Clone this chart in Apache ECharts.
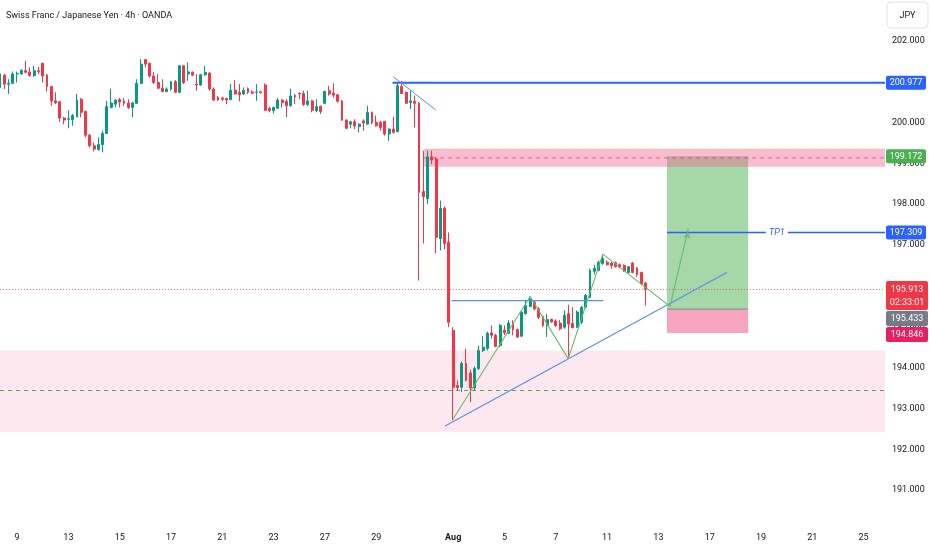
<!DOCTYPE html>
<html><head><meta charset="utf-8">
<script src="https://cdn.jsdelivr.net/npm/echarts@6/dist/echarts.min.js"></script>
<style>html,body{margin:0;padding:0;background:#fff}#c{width:932px;height:550px}</style>
</head><body><div id="c"></div>
<script>
// ---------- DATA ----------
var SLOTS = 208; // 4h slots on the time axis (candles + future space)
var tickSlots  = [4, 16, 28, 40, 52, 64, 76, 88, 106, 118, 130, 142, 154, 166, 178, 190, 202];
var tickLabels = ['9','13','15','17','21','23','27','29','Aug','5','7','11','13','17','19','21','25'];
// [open, close, low, high]
var ohlc = [
[200.86,201.19,200.82,201.27],[201.16,200.94,200.82,201.19],[200.94,200.96,200.70,201.06],[200.96,201.19,200.94,201.25],
[201.19,201.20,200.98,201.25],[201.19,201.28,201.17,201.30],[201.27,201.23,201.21,201.51],[201.24,201.15,201.12,201.35],
[201.15,201.27,201.12,201.39],[201.27,201.25,201.19,201.36],[201.45,201.14,200.98,201.46],[201.16,200.88,200.76,201.19],
[200.88,200.53,200.41,200.90],[200.53,200.48,200.45,200.74],[200.51,200.11,200.02,200.53],[200.11,200.06,199.96,200.14],
[200.08,200.09,199.86,200.30],[200.07,200.17,199.92,200.21],[200.14,200.55,200.13,200.70],[200.57,200.25,200.13,200.60],
[200.27,199.69,199.64,200.29],[199.69,199.43,199.39,199.72],[199.43,199.35,199.29,199.51],[199.34,199.46,199.31,199.64],
[199.46,199.73,199.27,199.80],[199.73,200.39,199.72,200.53],[200.37,200.48,200.35,200.83],[200.45,200.55,200.37,200.57],
[200.56,200.50,200.37,200.60],[200.53,200.47,200.41,200.60],[200.48,200.37,200.33,200.57],[200.37,200.48,200.13,200.51],
[200.47,200.96,200.45,201.06],[200.96,201.43,200.94,201.55],[201.54,201.43,201.35,201.55],[201.45,201.14,201.10,201.46],
[201.14,200.98,200.94,201.23],[200.98,200.84,200.82,201.19],[200.84,200.76,200.74,201.06],[200.76,200.82,200.74,200.86],
[200.82,201.00,200.78,201.02],[201.00,200.74,200.72,201.04],[200.74,201.39,200.72,201.41],[201.39,200.98,200.94,201.41],
[201.19,201.24,201.02,201.47],[201.23,201.16,201.14,201.25],[200.94,200.92,200.78,201.19],[200.92,201.17,200.90,201.19],
[201.17,201.23,201.14,201.39],[201.21,200.82,200.78,201.23],[200.82,200.55,200.53,200.86],[200.61,200.55,200.53,200.65],
[200.60,200.57,200.53,200.63],[200.59,200.55,200.45,200.61],[200.56,200.79,200.55,200.94],[200.79,200.70,200.68,201.04],
[200.74,200.68,200.52,200.94],[200.70,200.79,200.68,200.86],[200.83,200.74,200.70,200.86],[200.75,200.72,200.70,200.79],
[200.74,200.75,200.53,200.94],[200.75,200.73,200.71,200.78],[200.92,200.30,200.29,200.96],[200.35,200.29,200.25,200.39],
[200.29,200.37,200.22,200.39],[200.35,200.55,200.33,200.60],[200.55,200.49,200.37,200.57],[200.52,200.41,200.13,200.57],
[200.41,200.65,200.39,200.83],[200.66,200.63,200.45,200.70],[200.71,200.70,200.57,200.74],[200.71,200.44,200.41,200.78],
[200.44,200.53,200.41,200.78],[200.53,200.30,200.25,200.55],[200.29,200.39,200.25,200.57],[200.40,200.27,200.21,200.41],
[200.47,200.76,200.45,200.78],[200.78,200.70,200.66,200.90],[200.72,200.67,200.61,200.96],[200.68,200.52,200.49,200.70],
[200.53,200.06,200.04,200.55],[200.06,199.86,199.84,200.08],[199.96,200.02,199.86,200.04],[200.02,199.92,199.84,200.08],
[199.90,199.96,199.76,199.98],[200.04,199.99,199.80,200.08],[199.96,200.25,199.95,200.41],[200.25,200.00,199.96,200.27],
[200.00,199.92,199.90,200.17],[200.00,199.88,199.80,200.04],[200.03,199.72,199.68,200.04],[199.72,199.84,199.55,199.86],
[199.84,199.76,199.73,200.14],[199.78,200.90,199.76,200.98],[200.88,200.71,200.70,201.02],[200.74,200.47,200.45,200.76],
[200.49,200.53,200.33,200.78],[200.52,200.47,199.88,200.66],[200.47,198.29,196.13,200.50],[198.31,198.19,197.04,199.31],
[198.14,199.16,198.00,199.31],[199.16,199.08,198.98,199.31],[199.11,197.19,196.80,199.16],[197.16,197.90,196.87,198.09],
[197.90,197.04,196.90,197.95],[197.07,195.11,194.99,197.31],[194.91,193.52,192.71,194.99],[193.56,193.51,193.44,193.69],
[193.52,194.10,193.40,194.15],[194.10,193.69,193.66,194.46],[193.87,193.50,193.16,193.95],[193.50,193.98,193.44,194.03],
[193.98,194.42,193.94,194.54],[194.42,194.50,194.38,194.77],[194.47,194.84,194.42,194.88],[194.85,194.79,194.71,195.03],
[194.79,194.52,194.50,194.83],[194.54,195.03,194.50,195.07],[194.92,194.85,194.80,195.03],[194.84,195.09,194.82,195.16],
[195.09,194.93,194.79,195.16],[194.93,194.75,194.73,194.96],[194.77,195.36,194.75,195.38],[195.32,195.52,195.30,195.64],
[195.50,195.68,195.48,195.74],[195.60,195.44,195.40,195.64],[195.44,195.23,195.19,195.48],[195.25,195.03,194.99,195.27],
[195.03,195.18,194.75,195.31],[195.18,195.12,195.10,195.20],[195.14,195.03,194.99,195.18],[195.09,194.95,194.91,195.16],
[194.99,195.28,194.95,195.40],[195.32,195.07,194.22,195.54],[195.08,194.98,194.96,195.48],[194.99,195.36,194.97,195.40],
[195.11,195.48,195.07,195.50],[195.48,195.77,195.44,195.80],[195.72,196.38,195.70,196.42],[196.36,196.43,196.28,196.52],
[196.38,196.58,196.36,196.62],[196.55,196.67,196.52,196.78],[196.58,196.52,196.50,196.62],[196.56,196.50,196.42,196.58],
[196.57,196.47,196.45,196.60],[196.52,196.46,196.44,196.55],[196.50,196.36,196.34,196.53],[196.33,196.47,196.31,196.49],
[196.56,196.33,196.31,196.58],[196.44,196.28,196.22,196.46],[196.33,196.05,196.02,196.35],[196.07,195.913,195.52,196.10]
];
// annotation values: [slot, price]
var resistance   = [[91.8, 200.977], [207, 200.977]];
var topTrend     = [[92.0, 201.12], [101.9, 200.31]];
var neckline     = [[105.6, 195.64], [141.1, 195.64]];
var riseTrend    = [[104.1, 192.57], [170.0, 196.33]];
var zigzag       = [[105.9, 192.73], [124.0, 195.74], [132.9, 194.22], [141.0, 196.78], [156.7, 195.50], [161.0, 197.40]];
var tp1Line      = [[156, 197.309], [207, 197.309]];
var entryLine    = [[156, 195.433], [175, 195.433]];
var lastPriceLn  = [[0, 195.913], [207, 195.913]];
var greenDashLn  = [[0, 193.44], [207, 193.44]];
var supplyMidLn  = [[99.2, 199.135], [207, 199.135]];
var supplyTopLn  = [[99.2, 199.35], [207, 199.35]];
// boxes: [slotStart, slotEnd, priceLow, priceHigh]
var demandZone   = [0, 207, 192.42, 194.42];
var supplyZone   = [99.2, 207, 198.92, 199.35];
var profitBox    = [156, 175, 195.433, 199.172];
var stopBox      = [156, 175, 194.846, 195.433];
var tagValues    = [200.977, 199.172, 197.309, 195.913, 195.433, 194.846];
var countdown    = '02:33:01';
var tp1Slot      = 181.7;

// ---------- CHART ----------
var FONT = 'Roboto, "Noto Sans", sans-serif';
var categories = [];
for (var i = 0; i < SLOTS; i++) categories.push(String(i));
var labelMap = {};
tickSlots.forEach(function (s, k) { labelMap[s] = tickLabels[k]; });

function rectSeries(box, fill, z) {
  return {
    type: 'custom', xAxisIndex: 1, yAxisIndex: 0, z: z, silent: true, animation: false,
    data: [box],
    renderItem: function (params, api) {
      var a = api.coord([api.value(0), api.value(3)]);
      var b = api.coord([api.value(1), api.value(2)]);
      return { type: 'rect', shape: { x: a[0], y: a[1], width: b[0] - a[0], height: b[1] - a[1] },
               style: { fill: fill } };
    }
  };
}
function lineSeries(pts, color, width, type, z) {
  return { type: 'line', xAxisIndex: 1, yAxisIndex: 0, data: pts, symbol: 'none', silent: true,
           z: z || 5, animation: false, lineStyle: { color: color, width: width, type: type || 'solid' } };
}

var chart = echarts.init(document.getElementById('c'));
chart.setOption({
  animation: false,
  backgroundColor: '#ffffff',
  grid: { left: 0, right: 47, top: 0, bottom: 19 },
  xAxis: [{
    type: 'category', data: categories, boundaryGap: false,
    axisLine: { show: false }, axisTick: { show: false }, splitLine: { show: false },
    axisLabel: {
      interval: function (idx) { return labelMap[idx] !== undefined; },
      formatter: function (v) { var l = labelMap[Number(v)]; if (l === undefined) return ''; return l === 'Aug' ? '{b|Aug}' : l; },
      color: '#131722', fontSize: 9, fontFamily: FONT, margin: 2,
      rich: { b: { fontWeight: 'bold', fontSize: 9, color: '#131722', fontFamily: FONT } }
    }
  }, { type: 'value', min: 0, max: SLOTS - 1, show: false }],
  yAxis: {
    type: 'value', position: 'right', min: 190, max: 203, interval: 1,
    axisLine: { show: false }, axisTick: { show: false }, splitLine: { show: false },
    axisLabel: { formatter: function (v) { return v.toFixed(3); }, color: '#131722', fontSize: 9,
                 fontFamily: FONT, margin: 7, showMinLabel: false, showMaxLabel: false }
  },
  series: [
    rectSeries(demandZone, 'rgba(240,98,146,0.15)', 1),
    rectSeries(profitBox, 'rgba(76,175,80,0.5)', 1),
    rectSeries(stopBox, 'rgba(233,30,99,0.4)', 1),
    rectSeries(supplyZone, 'rgba(240,98,146,0.42)', 1),
    lineSeries(supplyTopLn, 'rgba(255,183,77,0.45)', 1, 'solid', 2),
    lineSeries(supplyMidLn, 'rgba(194,24,91,0.55)', 1, [4, 4], 2),
    lineSeries(greenDashLn, '#4caf50', 1, [4, 4], 2),
    lineSeries(lastPriceLn, 'rgba(242,54,69,0.7)', 1, [1, 2], 2),
    {
      type: 'candlestick', xAxisIndex: 0, yAxisIndex: 0, data: ohlc, barWidth: 2.4, z: 3, animation: false,
      itemStyle: { color: '#089981', color0: '#f23645', borderColor: '#089981', borderColor0: '#f23645', borderWidth: 1 }
    },
    lineSeries(entryLine, '#7d8a7d', 1, 'solid', 4),
    lineSeries(resistance, '#2962ff', 2, 'solid', 4),
    lineSeries(topTrend, '#5b8def', 1, 'solid', 4),
    lineSeries(neckline, '#5b8def', 1.3, 'solid', 4),
    lineSeries(riseTrend, '#5b8def', 1.1, 'solid', 4),
    lineSeries(tp1Line, '#2962ff', 1.5, 'solid', 4),
    lineSeries(zigzag, '#66bb6a', 1.1, 'solid', 4),
    { type: 'scatter', xAxisIndex: 1, yAxisIndex: 0, data: [zigzag[zigzag.length - 1]], silent: true, z: 4,
      symbol: 'arrow', symbolSize: [6, 7], symbolRotate: -13, symbolOffset: [0, 3], itemStyle: { color: '#66bb6a' }, animation: false }
  ]
});

// ---------- OVERLAY TEXT / PRICE TAGS ----------
function yPx(v) { return chart.convertToPixel({ yAxisIndex: 0 }, v); }
function xPx(v) { return chart.convertToPixel({ xAxisIndex: 1 }, v); }
var TX = 886, TW = 40, g = [];
function box(x, y, w, h, fill) { g.push({ type: 'rect', z: 100, shape: { x: x, y: y, width: w, height: h, r: 2 }, style: { fill: fill } }); }
function txt(x, y, s, color, font, align) {
  g.push({ type: 'text', z: 101, x: x, y: y, style: { text: s, fill: color, font: font || ('9px ' + FONT), align: align || 'center', verticalAlign: 'middle' } });
}
var tagColors = ['#2962ff', '#4caf50', '#2962ff'];
for (var k = 0; k < 3; k++) {
  var cy = yPx(tagValues[k]);
  box(TX, cy - 7, TW, 14, tagColors[k]);
  txt(TX + TW / 2, cy, tagValues[k].toFixed(3), '#ffffff');
}
var lastY = yPx(tagValues[3]);
var redTop = lastY - 8.5;
box(TX, redTop, TW + 2, 29, '#f23645');
txt(TX + TW / 2 + 1, redTop + 8.5, tagValues[3].toFixed(3), '#ffffff');
txt(TX + TW / 2 + 1, redTop + 22, countdown, '#ffffff');
var grayTop = redTop + 30;
box(TX, grayTop, TW + 2, 15, '#787b86');
txt(TX + TW / 2 + 1, grayTop + 8, tagValues[4].toFixed(3), '#ffffff');
var pinkTop = grayTop + 16;
box(TX, pinkTop, TW + 2, 15, '#e91e63');
txt(TX + TW / 2 + 1, pinkTop + 8, tagValues[5].toFixed(3), '#ffffff');
// currency box
g.push({ type: 'rect', z: 100, shape: { x: 887, y: 2, width: 41, height: 26, r: 4 }, style: { fill: '#ffffff', stroke: '#e0e3eb', lineWidth: 1 } });
txt(907.5, 15.5, 'JPY', '#131722');
// title
txt(6, 16, 'Swiss Franc / Japanese Yen \u00b7 4h \u00b7 OANDA', '#131722', '9px ' + FONT, 'left');
// TP1 label
var tpx = xPx(tp1Slot), tpy = yPx(tagValues[2]);
g.push({ type: 'rect', z: 100, shape: { x: tpx - 11, y: tpy - 5, width: 22, height: 10 }, style: { fill: '#ffffff' } });
txt(tpx, tpy, 'TP1', '#2962ff', 'italic 9px ' + FONT);
chart.setOption({ graphic: g });
</script>
</body></html>
